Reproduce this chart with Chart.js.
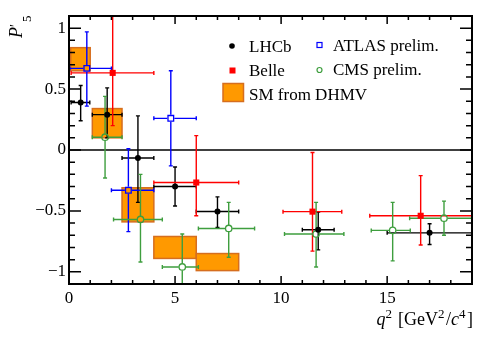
<!DOCTYPE html>
<html>
<head>
<meta charset="utf-8">
<script src="https://cdn.jsdelivr.net/npm/chart.js@4.4.0/dist/chart.umd.min.js"></script>
<style>
html,body{margin:0;padding:0;background:#fff;font-family:'Liberation Serif',serif;}
#wrap{width:498px;height:338px;}
.pre{position:absolute;left:-999px;top:0;font-family:'Liberation Serif';}
</style>
</head>
<body>
<span class="pre">x<i>x</i></span>
<div id="wrap"><canvas id="c" width="498" height="338"></canvas></div>
<script>
// ---- data ----
const xTicks = [0, 5, 10, 15];
const yTicks = [-1, -0.5, 0, 0.5, 1];

const lhcbX   = [0.55, 1.8, 3.25, 5.0, 7.0, 11.75, 17.0];
const lhcbXLo = [0.1, 1.1, 2.5, 4.0, 6.0, 11.0, 15.0];
const lhcbXHi = [0.98, 2.5, 4.0, 6.0, 8.0, 12.5, 19.0];
const lhcbY   = [0.39, 0.29, -0.066, -0.30, -0.505, -0.655, -0.68];
const lhcbYLo = [0.24, 0.10, -0.43, -0.46, -0.635, -0.82, -0.776];
const lhcbYHi = [0.53, 0.51, 0.28, -0.14, -0.385, -0.51, -0.605];

const belleX   = [2.06, 6.0, 11.48, 16.58];
const belleXLo = [0.1, 4.0, 10.09, 14.18];
const belleXHi = [4.0, 8.0, 12.86, 19.0];
const belleY   = [0.633, -0.267, -0.506, -0.54];
const belleYLo = [0.20, -0.54, -0.83, -0.78];
const belleYHi = [1.2, 0.118, -0.02, -0.21];

const atlasX   = [0.84, 2.8, 4.8];
const atlasXLo = [0.04, 2.0, 4.0];
const atlasXHi = [2.0, 4.0, 6.0];
const atlasY   = [0.67, -0.33, 0.26];
const atlasYLo = [0.36, -0.67, -0.13];
const atlasYHi = [0.97, 0.01, 0.65];

const cmsX   = [1.7, 3.37, 5.34, 7.53, 11.65, 15.26, 17.68];
const cmsXLo = [1.1, 2.1, 4.4, 6.1, 10.16, 14.25, 16.06];
const cmsXHi = [2.5, 4.4, 6.1, 8.75, 12.96, 16.09, 19.0];
const cmsY   = [0.105, -0.57, -0.96, -0.644, -0.69, -0.66, -0.56];
const cmsYLo = [-0.23, -0.92, -1.2, -0.88, -0.96, -0.91, -0.70];
const cmsYHi = [0.44, -0.20, -0.69, -0.43, -0.43, -0.43, -0.42];

const smXLo = [0.08, 1.1, 2.5, 4.0, 6.0];
const smXHi = [1.0, 2.5, 4.0, 6.0, 8.0];
const smYLo = [0.65, 0.10, -0.59, -0.89, -0.99];
const smYHi = [0.84, 0.34, -0.31, -0.71, -0.85];

// ---- styles ----
const FONT = "'Liberation Serif', 'Times New Roman', serif";
const GREEN = '#3e9e3e';
const SM_FILL = 'rgb(255,153,0)';
const SM_EDGE = 'rgb(214,110,30)';

function pts(xs, ys){ return xs.map((x,i)=>({x:x, y:ys[i]})); }

const series = [
  {label:'LHCb', color:'#000', x:lhcbX, xlo:lhcbXLo, xhi:lhcbXHi, y:lhcbY, ylo:lhcbYLo, yhi:lhcbYHi, gap:0},
  {label:'Belle', color:'#ff0000', x:belleX, xlo:belleXLo, xhi:belleXHi, y:belleY, ylo:belleYLo, yhi:belleYHi, gap:0},
  {label:'ATLAS prelim.', color:'#0000ff', x:atlasX, xlo:atlasXLo, xhi:atlasXHi, y:atlasY, ylo:atlasYLo, yhi:atlasYHi, gap:3.5},
  {label:'CMS prelim.', color:GREEN, x:cmsX, xlo:cmsXLo, xhi:cmsXHi, y:cmsY, ylo:cmsYLo, yhi:cmsYHi, gap:3.5}
];

const bgPlugin = {
  id:'bg',
  beforeDatasetsDraw(chart){
    const {ctx, chartArea:a, scales:{x, y}} = chart;
    ctx.save();
    ctx.beginPath(); ctx.rect(a.left, a.top, a.right-a.left, a.bottom-a.top); ctx.clip();
    ctx.strokeStyle = '#000'; ctx.lineWidth = 1.5;
    ctx.beginPath(); ctx.moveTo(a.left, y.getPixelForValue(0)); ctx.lineTo(a.right, y.getPixelForValue(0)); ctx.stroke();
    for (let i=0;i<smXLo.length;i++){
      const x0 = x.getPixelForValue(smXLo[i]), x1 = x.getPixelForValue(smXHi[i]);
      const y0 = y.getPixelForValue(smYHi[i]), y1 = y.getPixelForValue(smYLo[i]);
      ctx.fillStyle = SM_FILL; ctx.fillRect(x0, y0, x1-x0, y1-y0);
      ctx.strokeStyle = SM_EDGE; ctx.lineWidth = 1.5; ctx.strokeRect(x0, y0, x1-x0, y1-y0);
    }
    const cap = 2;
    series.forEach(s=>{
      ctx.strokeStyle = s.color; ctx.lineWidth = 1.4;
      for (let i=0;i<s.x.length;i++){
        const px = x.getPixelForValue(s.x[i]), py = y.getPixelForValue(s.y[i]);
        const xl = x.getPixelForValue(s.xlo[i]), xh = x.getPixelForValue(s.xhi[i]);
        const yl = y.getPixelForValue(s.ylo[i]), yh = y.getPixelForValue(s.yhi[i]);
        const g = s.gap;
        ctx.beginPath();
        ctx.moveTo(xl, py); ctx.lineTo(px-g, py);
        ctx.moveTo(px+g, py); ctx.lineTo(xh, py);
        ctx.moveTo(px, yh); ctx.lineTo(px, py-g);
        ctx.moveTo(px, py+g); ctx.lineTo(px, yl);
        ctx.moveTo(xl, py-cap); ctx.lineTo(xl, py+cap);
        ctx.moveTo(xh, py-cap); ctx.lineTo(xh, py+cap);
        ctx.moveTo(px-cap, yh); ctx.lineTo(px+cap, yh);
        ctx.moveTo(px-cap, yl); ctx.lineTo(px+cap, yl);
        ctx.stroke();
      }
    });
    ctx.restore();
  }
};

const framePlugin = {
  id:'frame',
  afterDraw(chart){
    const {ctx, chartArea:a, scales:{x, y}} = chart;
    ctx.save();
    ctx.strokeStyle = '#000';
    ctx.lineWidth = 1.5;
    ctx.beginPath();
    for (let v=0; v<=19; v+=1){
      const p = x.getPixelForValue(v);
      const L = (v%5===0) ? 8 : 4;
      ctx.moveTo(p, a.bottom); ctx.lineTo(p, a.bottom-L);
      ctx.moveTo(p, a.top); ctx.lineTo(p, a.top+L);
    }
    for (let k=-11; k<=11; k++){
      const v = k/10;
      const p = y.getPixelForValue(v);
      const L = (k%5===0) ? 12 : 6;
      ctx.moveTo(a.left, p); ctx.lineTo(a.left+L, p);
      ctx.moveTo(a.right, p); ctx.lineTo(a.right-L, p);
    }
    ctx.stroke();
    ctx.lineWidth = 2;
    ctx.strokeRect(a.left, a.top, a.right-a.left, a.bottom-a.top);

    ctx.fillStyle = '#000';
    ctx.textBaseline = 'alphabetic';
    const base = 325;
    const parts = [
      ['q', 'italic 18px '+FONT, 0],
      ['2', '13px '+FONT, -7],
      [' [GeV', '18px '+FONT, 0],
      ['2', '13px '+FONT, -7],
      ['/', '18px '+FONT, 0],
      ['c', 'italic 18px '+FONT, 0],
      ['4', '13px '+FONT, -7],
      [']', '18px '+FONT, 0]
    ];
    let tot = 0;
    parts.forEach(p=>{ ctx.font = p[1]; tot += ctx.measureText(p[0]).width + (p[2]?1.5:0); });
    let cx = a.right + 1 - tot;
    parts.forEach(p=>{ ctx.font = p[1]; ctx.fillText(p[0], cx, base + p[2]); cx += ctx.measureText(p[0]).width + (p[2]?1.5:0); });

    ctx.save();
    ctx.translate(22, 38);
    ctx.rotate(-Math.PI/2);
    ctx.font = 'italic 18px '+FONT;
    ctx.fillText('P', 0, 0);
    let w = ctx.measureText('P').width;
    ctx.font = '14px '+FONT;
    ctx.fillText('\u2032', w, -2);
    ctx.font = '13px '+FONT;
    ctx.fillText('5', w+5, 9);
    ctx.restore();

    ctx.font = '17px '+FONT;
    ctx.fillStyle = '#000';
    ctx.fillText('LHCb', 249, 51.5);
    ctx.fillText('Belle', 249, 76);
    ctx.fillText('SM from DHMV', 249, 100);
    ctx.fillText('ATLAS prelim.', 333, 50.5);
    ctx.fillText('CMS prelim.', 333, 75);
    ctx.beginPath(); ctx.arc(232, 46, 2.8, 0, Math.PI*2); ctx.fillStyle='#000'; ctx.fill();
    ctx.fillStyle = '#ff0000'; ctx.fillRect(229.5, 67.5, 6, 6);
    ctx.strokeStyle = '#0000ff'; ctx.lineWidth = 1.2; ctx.strokeRect(317, 42.5, 5, 5);
    ctx.strokeStyle = GREEN; ctx.beginPath(); ctx.arc(319.5, 70, 2.5, 0, Math.PI*2); ctx.stroke();
    ctx.fillStyle = SM_FILL; ctx.fillRect(223, 83.5, 20.5, 18);
    ctx.strokeStyle = SM_EDGE; ctx.lineWidth = 1.5; ctx.strokeRect(223, 83.5, 20.5, 18);
    ctx.restore();
  }
};

function draw(){
  new Chart(document.getElementById('c'), {
    type:'scatter',
    data:{
      datasets:[
        {label:'LHCb', data:pts(lhcbX, lhcbY), pointStyle:'circle', pointRadius:3, backgroundColor:'#000', borderColor:'#000', borderWidth:0},
        {label:'Belle', data:pts(belleX, belleY), pointStyle:'rect', pointRadius:4.3, backgroundColor:'#ff0000', borderColor:'#ff0000', borderWidth:0},
        {label:'ATLAS prelim.', data:pts(atlasX, atlasY), pointStyle:'rect', pointRadius:4, backgroundColor:'rgba(0,0,0,0)', borderColor:'#0000ff', borderWidth:1.3},
        {label:'CMS prelim.', data:pts(cmsX, cmsY), pointStyle:'circle', pointRadius:3.2, backgroundColor:'rgba(0,0,0,0)', borderColor:GREEN, borderWidth:1.3}
      ]
    },
    options:{
      responsive:false,
      animation:false,
      events:[],
      layout:{padding:{left:0, top:16, right:26, bottom:0}},
      plugins:{legend:{display:false}, tooltip:{enabled:false}},
      scales:{
        x:{
          type:'linear', min:0, max:19,
          afterBuildTicks(s){ s.ticks = xTicks.map(v=>({value:v})); },
          afterFit(s){ s.height = 54; },
          grid:{display:false, drawTicks:false},
          border:{display:false},
          ticks:{color:'#000', font:{family:FONT, size:17}, padding:4, maxRotation:0, autoSkip:false}
        },
        y:{
          type:'linear', min:-1.1, max:1.1,
          afterBuildTicks(s){ s.ticks = yTicks.map(v=>({value:v})); },
          afterFit(s){ s.width = 69; },
          grid:{display:false, drawTicks:false},
          border:{display:false},
          ticks:{color:'#000', font:{family:FONT, size:17}, padding:3, autoSkip:false,
            callback:(v)=> v<0 ? '\u2212'+String(Math.abs(v)) : String(v)}
        }
      }
    },
    plugins:[bgPlugin, framePlugin]
  });
}
Promise.all([
  document.fonts.load("17px 'Liberation Serif'"),
  document.fonts.load("italic 18px 'Liberation Serif'")
]).then(draw, draw);
</script>
</body>
</html>
